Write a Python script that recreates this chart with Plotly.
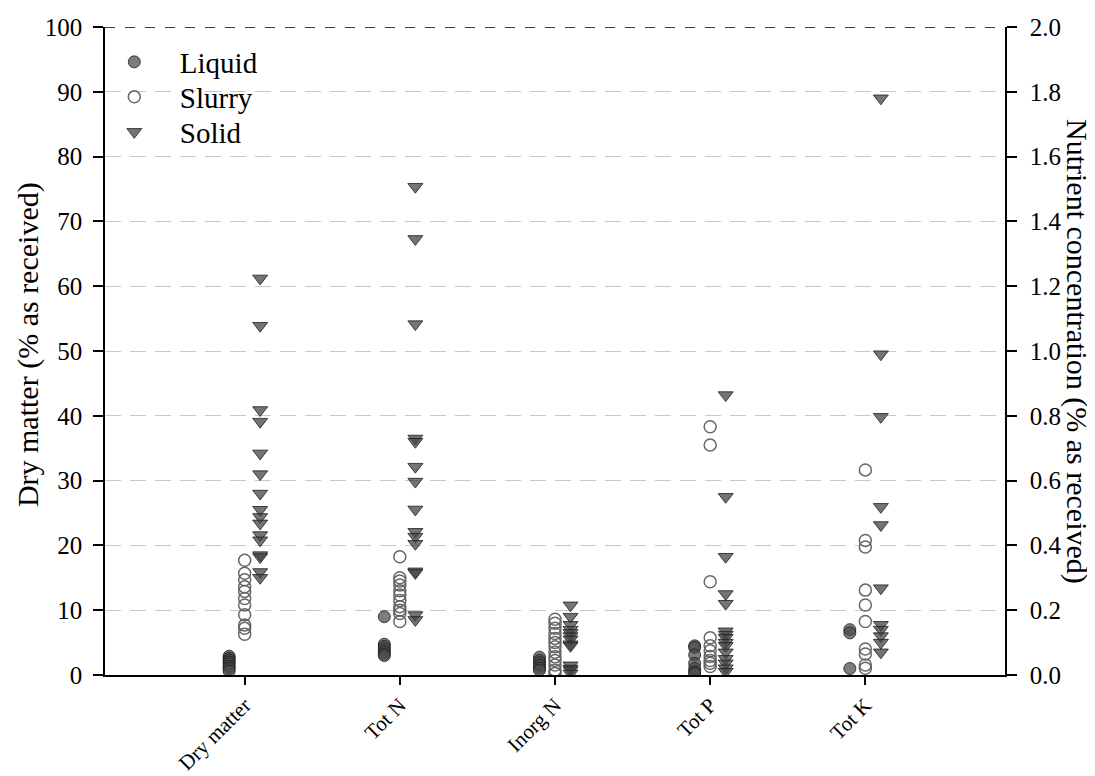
import plotly.graph_objects as go

# ---------------- data ----------------
categories = ["Dry matter", "Tot N", "Inorg N", "Tot P", "Tot K"]
groups = ["Liquid", "Slurry", "Solid"]

# Dry matter (% as received) – left axis
liquid_dm = [2.9, 2.6, 2.3, 2.0, 1.7, 1.3, 1.0, 0.6]
slurry_dm = [17.7, 15.7, 14.7, 13.6, 12.9, 11.8, 10.8, 9.3, 7.7, 7.2, 6.3]
solid_dm = [61.2, 53.9, 40.9, 39.1, 34.2, 31.0, 28.0, 25.5, 24.4, 23.4, 21.6,
            20.8, 18.5, 18.2, 15.9, 15.0]

# Nutrient concentration (% as received) – right axis
liquid_totn = [0.18, 0.095, 0.088, 0.08, 0.072, 0.065, 0.06]
slurry_totn = [0.365, 0.30, 0.29, 0.278, 0.26, 0.247, 0.23, 0.211, 0.20, 0.19, 0.165]
solid_totn = [1.507, 1.346, 1.083, 0.73, 0.72, 0.643, 0.597, 0.511, 0.442, 0.427,
              0.405, 0.32, 0.315, 0.185, 0.17]

liquid_inorgn = [0.055, 0.045, 0.038, 0.03, 0.022, 0.015]
slurry_inorgn = [0.172, 0.16, 0.144, 0.128, 0.113, 0.1, 0.087, 0.07, 0.056, 0.045,
                 0.031, 0.015, 0.005]
solid_inorgn = [0.215, 0.18, 0.155, 0.14, 0.13, 0.12, 0.11, 0.095, 0.09, 0.03,
                0.02, 0.015, 0.005]

liquid_totp = [0.09, 0.085, 0.062, 0.036, 0.02, 0.01, 0.005]
slurry_totp = [0.766, 0.71, 0.288, 0.115, 0.09, 0.075, 0.057, 0.045, 0.036, 0.026]
solid_totp = [0.864, 0.55, 0.365, 0.25, 0.22, 0.135, 0.125, 0.115, 0.1, 0.09, 0.07,
              0.05, 0.036, 0.021, 0.01]

liquid_totk = [0.14, 0.13, 0.02]
slurry_totk = [0.633, 0.415, 0.395, 0.262, 0.216, 0.165, 0.08, 0.065, 0.031, 0.021]
solid_totk = [1.78, 0.99, 0.797, 0.519, 0.463, 0.268, 0.155, 0.14, 0.12, 0.1, 0.07]

left_ticks = list(range(0, 101, 10))
right_ticks = [0.0, 0.2, 0.4, 0.6, 0.8, 1.0, 1.2, 1.4, 1.6, 1.8, 2.0]

# ---------------- styles ----------------
FONT = "Liberation Serif"
dodge = {"Liquid": -0.1, "Slurry": 0.0, "Solid": 0.1}
style = {
    "Liquid": dict(symbol="circle", size=12, color="rgba(75,75,75,0.72)",
                   line=dict(color="rgba(25,25,25,0.8)", width=1)),
    "Slurry": dict(symbol="circle-open", size=12, color="rgba(95,95,95,0.95)",
                   line=dict(width=1.5)),
    "Solid": dict(symbol="triangle-down", size=13, color="rgba(70,70,70,0.75)",
                  line=dict(color="rgba(30,30,30,0.8)", width=1)),
}
legend_ids = {"Liquid": "legend", "Slurry": "legend2", "Solid": "legend3"}

dm = {"Liquid": liquid_dm, "Slurry": slurry_dm, "Solid": solid_dm}
nutr = {
    "Liquid": [liquid_totn, liquid_inorgn, liquid_totp, liquid_totk],
    "Slurry": [slurry_totn, slurry_inorgn, slurry_totp, slurry_totk],
    "Solid": [solid_totn, solid_inorgn, solid_totp, solid_totk],
}

fig = go.Figure()
for g in groups:
    fig.add_trace(go.Scatter(
        x=[1 + dodge[g]] * len(dm[g]), y=dm[g], mode="markers",
        marker=style[g], name=g, legendgroup=g, showlegend=True,
        legend=legend_ids[g], yaxis="y"))
    xs, ys = [], []
    for ci, vals in enumerate(nutr[g]):
        xs += [ci + 2 + dodge[g]] * len(vals)
        ys += vals
    fig.add_trace(go.Scatter(
        x=xs, y=ys, mode="markers", marker=style[g], name=g,
        legendgroup=g, showlegend=False, yaxis="y2"))

fig.add_shape(type="line", xref="paper", yref="y", x0=0, x1=1, y0=100, y1=100,
              line=dict(color="black", width=1.5, dash="10px,10px"), layer="above")

axis_common = dict(showline=True, linecolor="black", linewidth=1.5,
                   ticks="outside", tickcolor="black", tickwidth=1.5, automargin=False,
                   tickfont=dict(family=FONT, size=25, color="black"), zeroline=False)

# page body adds an 8 px offset; figure sized so it fits the window
plot_top, plot_h = 19, 648
def leg(ycenter_px):
    return dict(x=-0.018, y=1 - (ycenter_px - plot_top) / plot_h,
                xanchor="left", yanchor="middle",
                font=dict(family=FONT, size=29, color="black"),
                bgcolor="rgba(0,0,0,0)", itemwidth=81)

fig.update_layout(
    width=1087, height=768, autosize=False,
    margin=dict(l=97, r=90, t=19, b=101),
    paper_bgcolor="white", plot_bgcolor="white",
    font=dict(family=FONT, color="black"),
    xaxis=dict(range=[0.1, 5.9], tickvals=[1, 2, 3, 4, 5], ticktext=categories,
               tickangle=-45, showgrid=False, ticklen=8,
               **{**axis_common, "tickfont": dict(family=FONT, size=21, color="black")}),
    yaxis=dict(range=[0, 100], tickvals=left_ticks, ticklen=10, ticklabelstandoff=6,
               showgrid=True, gridcolor="#c8c8c8", gridwidth=1.2, griddash="16px,9px",
               **axis_common),
    yaxis2=dict(range=[0, 2], tickvals=right_ticks, tickformat=".1f",
                overlaying="y", side="right", ticklen=10, ticklabelstandoff=8,
                showgrid=False, **axis_common),
    legend=leg(54), legend2=leg(89), legend3=leg(124),
    showlegend=True,
    annotations=[
        dict(text="Dry matter (% as received)", xref="paper", yref="paper",
             x=-0.086, y=0.51, xanchor="center", yanchor="middle", textangle=-90,
             showarrow=False, font=dict(family=FONT, size=30, color="black")),
        dict(text="Nutrient concentration (% as received)", xref="paper", yref="paper",
             x=1.08, y=0.5, xanchor="center", yanchor="middle", textangle=90,
             showarrow=False, font=dict(family=FONT, size=30, color="black")),
    ],
)

fig.write_html("out.html")
